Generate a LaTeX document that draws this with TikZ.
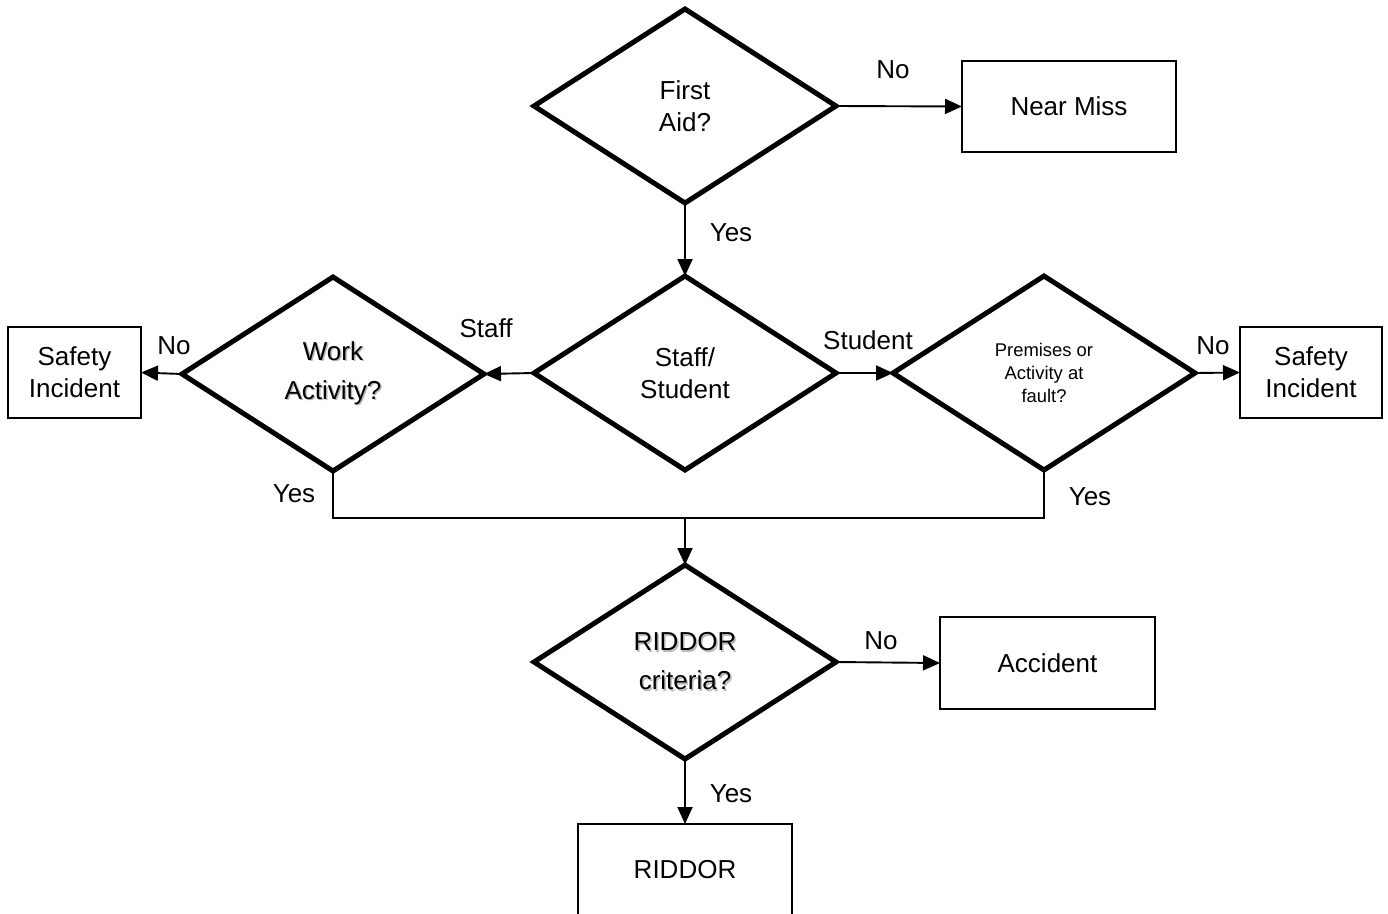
\documentclass[tikz,border=0pt]{standalone}
\usepackage{fontspec}
\setmainfont{Liberation Sans}
\usetikzlibrary{shapes.geometric,arrows.meta}
\newcommand\shd[1]{\leavevmode\rlap{\color{black!28}\kern1.5pt\raisebox{-1.5pt}{#1}}#1}
\begin{document}
\begin{tikzpicture}[x=1pt,y=-1pt,
  every node/.style={font=\fontsize{26}{32}\selectfont},
  decision/.style={shape=diamond,draw,line width=5pt,minimum width=302pt,minimum height=194pt,
    inner sep=0pt,outer sep=0pt,align=center,line join=miter},
  outcome/.style={shape=rectangle,draw,line width=1.2pt,minimum width=214pt,minimum height=91pt,
    inner sep=0pt,outer sep=0pt,align=center},
  lbl/.style={inner sep=0pt},
  conn/.style={line width=1.9pt,-{Triangle[length=17pt,width=15pt]}},
  plain/.style={line width=1.9pt}]
\useasboundingbox (0,0) rectangle (1388,913);
% decisions
\node[decision] (fa) at (685,106) {First\\Aid?};
\node[decision] (ss) at (685,373) {Staff/\\Student};
\node[decision,font=\fontsize{26}{39}\selectfont] (wa) at (333,374) {\shd{Work}\\\shd{Activity?}};
\node[decision,font=\fontsize{18.4}{23}\selectfont] (pa) at (1044,373) {Premises or\\Activity at\\fault?};
\node[decision,font=\fontsize{26}{39}\selectfont] (rc) at (685,662) {\shd{RIDDOR}\\\shd{criteria?}};
% outcomes
\node[outcome] (nm) at (1069,106.5) {Near Miss};
\node[outcome,minimum width=133pt] (si1) at (74.5,372.5) {Safety\\Incident};
\node[outcome,minimum width=142pt] (si2) at (1311,372.5) {Safety\\Incident};
\node[outcome,minimum width=215pt,minimum height=92pt] (acc) at (1047.5,663) {Accident};
\node[outcome] (rid) at (685,869.5) {RIDDOR};
% junction
\coordinate (j) at (685,518);
% connectors
\draw[conn] (fa.east) -- (nm.west);
\draw[conn] (fa.south) -- (ss.north);
\draw[conn] (ss.west) -- (wa.east);
\draw[conn] (wa.west) -- (si1.east);
\draw[conn] (ss.east) -- (pa.west);
\draw[conn] (pa.east) -- (si2.west);
\draw[plain] (wa.south) |- (j) -| (pa.south);
\draw[conn] (j) -- (rc.north);
\draw[conn] (rc.east) -- (acc.west);
\draw[conn] (rc.south) -- (rid.north);
% labels
\node[lbl] (l1) at (893,70) {No};
\node[lbl] (l2) at (731,233) {Yes};
\node[lbl] (l3) at (486,328) {Staff};
\node[lbl] (l4) at (174,346) {No};
\node[lbl] (l5) at (868,340) {Student};
\node[lbl] (l6) at (1213,346) {No};
\node[lbl] (l7) at (294,494) {Yes};
\node[lbl] (l8) at (1090,497) {Yes};
\node[lbl] (l9) at (881,641) {No};
\node[lbl] (l10) at (731,794) {Yes};
\end{tikzpicture}
\end{document}
